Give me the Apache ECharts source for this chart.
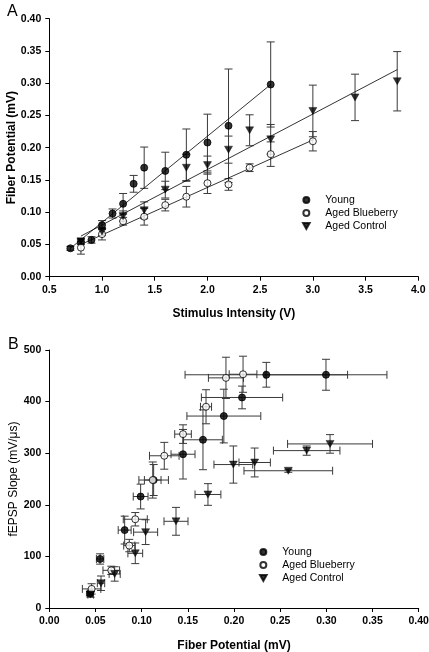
<!DOCTYPE html>
<html>
<head>
<meta charset="utf-8">
<script src="https://cdn.jsdelivr.net/npm/echarts@6/dist/echarts.min.js"></script>
<style>
html,body{margin:0;padding:0;background:#fff;}
#c{width:429px;height:652px;}
</style>
</head>
<body>
<div id="c"></div>
<script>
// ---------- Panel A: Fiber potential vs stimulus intensity ----------
const voltsYoung = [0.7, 0.8, 0.9, 1.0, 1.1, 1.2, 1.3, 1.4, 1.6, 1.8, 2.0, 2.2, 2.6];
const fpYoung    = [0.044, 0.054, 0.057, 0.080, 0.098, 0.113, 0.144, 0.169, 0.164, 0.189, 0.208, 0.234, 0.298];
const fpYoungErr = [0.003, 0.004, 0.005, 0.007, 0.007, 0.016, 0.013, 0.032, 0.029, 0.040, 0.044, 0.088, 0.066];

const voltsBlue = [0.8, 1.0, 1.2, 1.4, 1.6, 1.8, 2.0, 2.2, 2.4, 2.6, 3.0];
const fpBlue    = [0.045, 0.066, 0.086, 0.093, 0.111, 0.124, 0.145, 0.143, 0.169, 0.190, 0.210];
const fpBlueErr = [0.010, 0.009, 0.006, 0.013, 0.009, 0.016, 0.016, 0.009, 0.006, 0.019, 0.015];

const voltsCtrl = [0.8, 1.0, 1.2, 1.4, 1.6, 1.8, 2.0, 2.2, 2.4, 2.6, 3.0, 3.4, 3.8];
const fpCtrl    = [0.055, 0.070, 0.094, 0.103, 0.135, 0.169, 0.173, 0.197, 0.227, 0.213, 0.257, 0.278, 0.303];
const fpCtrlErr = [0.004, 0.006, 0.008, 0.013, 0.013, 0.021, 0.014, 0.021, 0.024, 0.023, 0.040, 0.036, 0.046];

// regression line end points [x, y]
const fitYoung = [[0.7, 0.044], [2.6, 0.298]];
const fitBlue  = [[0.8, 0.050], [3.0, 0.212]];
const fitCtrl  = [[0.8, 0.063], [3.8, 0.321]];

// ---------- Panel B: fEPSP slope vs fiber potential ----------
const fpYoungB      = [0.044, 0.055, 0.0816, 0.0989, 0.113, 0.1448, 0.1664, 0.189, 0.2087, 0.235, 0.2996];
const slopeYoung    = [28, 95, 151, 216, 248, 298, 326, 372, 408, 452, 452];
const fpYoungBErr   = [0.003, 0.004, 0.007, 0.008, 0.016, 0.013, 0.021, 0.040, 0.044, 0.088, 0.066];
const slopeYoungErr = [4, 10, 27, 24, 30, 48, 58, 52, 22, 24, 30];

const fpBlueB      = [0.0458, 0.0671, 0.0866, 0.0931, 0.112, 0.1245, 0.1448, 0.1697, 0.1913, 0.2098];
const slopeBlue    = [37, 73, 121, 172, 248, 295, 337, 390, 446, 453];
const fpBlueBErr   = [0.010, 0.009, 0.006, 0.013, 0.009, 0.016, 0.009, 0.006, 0.019, 0.015];
const slopeBlueErr = [10, 8, 12, 13, 35, 26, 18, 33, 40, 35];

const fpCtrlB      = [0.0448, 0.056, 0.0708, 0.0931, 0.1043, 0.1372, 0.1718, 0.1993, 0.2224, 0.2588, 0.2787, 0.304];
const slopeCtrl    = [26, 48, 66, 106, 147, 168, 220, 278, 282, 266, 305, 318];
const fpCtrlBErr   = [0.003, 0.004, 0.006, 0.008, 0.013, 0.013, 0.014, 0.021, 0.017, 0.048, 0.036, 0.046];
const slopeCtrlErr = [5, 14, 14, 20, 24, 27, 21, 36, 28, 3, 9, 18];

const seriesNames = ['Young', 'Aged Blueberry', 'Aged Control'];

// ---------- helpers ----------
const FONT = 'Liberation Sans, Arial, sans-serif';
const TRI = 'path://M0,0L10,0L5,9Z';
const zip = (a, b) => a.map((v, i) => [v, b[i]]);
const zip3 = (a, b, c) => a.map((v, i) => [v, b[i], c[i]]);
const zip4 = (a, b, c, d) => a.map((v, i) => [v, b[i], c[i], d[i]]);
const CAP = 4;
const ERR_COLOR = '#3a3a3a';

function yErrRender(params, api) {
  const x = api.value(0), y = api.value(1), e = api.value(2);
  const lo = api.coord([x, y - e]), hi = api.coord([x, y + e]);
  const st = { stroke: ERR_COLOR, lineWidth: 1, fill: null };
  return { type: 'group', children: [
    { type: 'line', shape: { x1: lo[0], y1: lo[1], x2: hi[0], y2: hi[1] }, style: st },
    { type: 'line', shape: { x1: lo[0] - CAP, y1: lo[1], x2: lo[0] + CAP, y2: lo[1] }, style: st },
    { type: 'line', shape: { x1: hi[0] - CAP, y1: hi[1], x2: hi[0] + CAP, y2: hi[1] }, style: st }
  ]};
}
function xyErrRender(params, api) {
  const x = api.value(0), y = api.value(1), ex = api.value(2), ey = api.value(3);
  const lo = api.coord([x, y - ey]), hi = api.coord([x, y + ey]);
  const le = api.coord([x - ex, y]), ri = api.coord([x + ex, y]);
  const st = { stroke: ERR_COLOR, lineWidth: 1, fill: null };
  return { type: 'group', children: [
    { type: 'line', shape: { x1: lo[0], y1: lo[1], x2: hi[0], y2: hi[1] }, style: st },
    { type: 'line', shape: { x1: lo[0] - CAP, y1: lo[1], x2: lo[0] + CAP, y2: lo[1] }, style: st },
    { type: 'line', shape: { x1: hi[0] - CAP, y1: hi[1], x2: hi[0] + CAP, y2: hi[1] }, style: st },
    { type: 'line', shape: { x1: le[0], y1: le[1], x2: ri[0], y2: ri[1] }, style: st },
    { type: 'line', shape: { x1: le[0], y1: le[1] - CAP, x2: le[0], y2: le[1] + CAP }, style: st },
    { type: 'line', shape: { x1: ri[0], y1: ri[1] - CAP, x2: ri[0], y2: ri[1] + CAP }, style: st }
  ]};
}

const markerStyles = [
  { symbol: 'circle', symbolSize: 7, itemStyle: { color: '#000', borderColor: '#000', borderWidth: 1 } },
  { symbol: 'circle', symbolSize: 7, itemStyle: { color: '#fff', borderColor: '#000', borderWidth: 1 } },
  { symbol: TRI, symbolSize: [8, 7], itemStyle: { color: '#000', borderColor: '#000', borderWidth: 0.5 } }
];

const axisCommon = {
  axisLine: { show: true, onZero: false, lineStyle: { color: '#000', width: 1 } },
  axisTick: { show: true, inside: false, length: 4, lineStyle: { color: '#000' } },
  splitLine: { show: false },
  nameMoveOverlap: false,
  axisLabel: { color: '#000', fontFamily: FONT, fontWeight: 'bold', fontSize: 10.5, margin: 8 },
  nameTextStyle: { color: '#000', fontFamily: FONT, fontWeight: 'bold', fontSize: 12 }
};

const series = [];
// Panel A
const aData = [[voltsYoung, fpYoung, fpYoungErr], [voltsBlue, fpBlue, fpBlueErr], [voltsCtrl, fpCtrl, fpCtrlErr]];
const aFits = [fitYoung, fitBlue, fitCtrl];
aData.forEach((d, i) => {
  series.push({ type: 'custom', name: seriesNames[i] + ' err', xAxisIndex: 0, yAxisIndex: 0, renderItem: yErrRender,
    data: zip3(d[0], d[1], d[2]), z: 2, silent: true });
  series.push({ type: 'line', name: seriesNames[i] + ' fit', xAxisIndex: 0, yAxisIndex: 0, data: aFits[i],
    showSymbol: false, lineStyle: { color: '#000', width: 0.8 }, z: 3, silent: true });
});
aData.forEach((d, i) => {
  series.push(Object.assign({ type: 'scatter', name: seriesNames[i], xAxisIndex: 0, yAxisIndex: 0,
    data: zip(d[0], d[1]), z: 5 }, markerStyles[i]));
});
// Panel B
const bData = [[fpYoungB, slopeYoung, fpYoungBErr, slopeYoungErr],
               [fpBlueB, slopeBlue, fpBlueBErr, slopeBlueErr],
               [fpCtrlB, slopeCtrl, fpCtrlBErr, slopeCtrlErr]];
bData.forEach((d, i) => {
  series.push({ type: 'custom', name: seriesNames[i] + ' errB', xAxisIndex: 1, yAxisIndex: 1, renderItem: xyErrRender,
    data: zip4(d[0], d[1], d[2], d[3]), z: 2, silent: true });
});
bData.forEach((d, i) => {
  series.push(Object.assign({ type: 'scatter', name: seriesNames[i], xAxisIndex: 1, yAxisIndex: 1,
    data: zip(d[0], d[1]), z: 5 }, markerStyles[i]));
});

const legendCommon = {
  orient: 'vertical', itemWidth: 22, itemHeight: 6, itemGap: 1, selectedMode: false,
  textStyle: { color: '#000', fontFamily: FONT, fontSize: 10.5, padding: [0, 0, 0, 3], lineHeight: 12 },
  data: seriesNames
};

const option = {
  animation: false,
  backgroundColor: '#fff',
  title: [
    { text: 'A', left: 2, top: -1, textStyle: { fontFamily: FONT, fontWeight: 'normal', fontSize: 16, color: '#000' } },
    { text: 'B', left: 3, top: 332, textStyle: { fontFamily: FONT, fontWeight: 'normal', fontSize: 16, color: '#000' } }
  ],
  grid: [
    { left: 49.3, top: 18.7, width: 369, height: 258, containLabel: false, outerBoundsMode: 'none' },
    { left: 49.3, top: 350, width: 369.4, height: 258, containLabel: false, outerBoundsMode: 'none' }
  ],
  xAxis: [
    Object.assign({}, axisCommon, { type: 'value', gridIndex: 0, min: 0.5, max: 4.0, interval: 0.5,
      name: 'Stimulus Intensity (V)', nameLocation: 'middle', nameGap: 31,
      axisLabel: Object.assign({}, axisCommon.axisLabel, { formatter: v => v.toFixed(1) }) }),
    Object.assign({}, axisCommon, { type: 'value', gridIndex: 1, min: 0, max: 0.4, interval: 0.05,
      name: 'Fiber Potential (mV)', nameLocation: 'middle', nameGap: 32,
      axisLabel: Object.assign({}, axisCommon.axisLabel, { formatter: v => v.toFixed(2) }) })
  ],
  yAxis: [
    Object.assign({}, axisCommon, { type: 'value', gridIndex: 0, min: 0, max: 0.4, interval: 0.05,
      name: 'Fiber Potential (mV)', nameLocation: 'middle', nameGap: 32,
      axisLabel: Object.assign({}, axisCommon.axisLabel, { formatter: v => v.toFixed(2) }) }),
    Object.assign({}, axisCommon, { type: 'value', gridIndex: 1, min: 0, max: 500, interval: 100,
      name: 'fEPSP Slope (mV/\u03bcs)', nameLocation: 'middle', nameGap: 30,
      nameTextStyle: { color: '#000', fontFamily: FONT, fontWeight: 'normal', fontSize: 12 } })
  ],
  legend: [
    Object.assign({}, legendCommon, { left: 297, top: 189 }),
    Object.assign({}, legendCommon, { left: 254, top: 541 })
  ],
  series: series
};

const chart = echarts.init(document.getElementById('c'), null, { renderer: 'canvas' });
chart.setOption(option);
</script>
</body>
</html>
